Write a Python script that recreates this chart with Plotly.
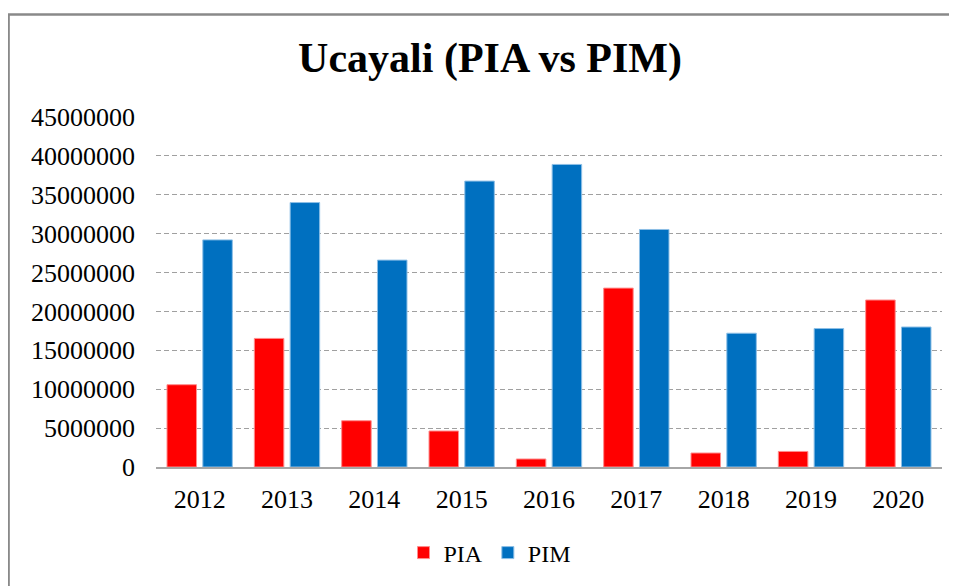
import plotly.graph_objects as go

years = ["2012", "2013", "2014", "2015", "2016", "2017", "2018", "2019", "2020"]
pia = [10580000, 16530000, 5950000, 4630000, 1030000, 23000000, 1800000, 2000000, 21470000]
pim = [29200000, 34000000, 26600000, 36760000, 38900000, 30540000, 17200000, 17800000, 18000000]
y_ticks = [0, 5000000, 10000000, 15000000, 20000000, 25000000, 30000000, 35000000, 40000000, 45000000]
y_tick_labels = [str(v) for v in y_ticks]

# page is drawn with an 8px body offset; target coordinates below are shifted by -8
OFF = 8
W, H = 957, 586
ml = 156 - OFF
mt = 117 - OFF
plot_right = 942.4 - OFF
plot_bottom = 467.3 - OFF
mr = W - plot_right
mb = H - plot_bottom
pw, ph = W - ml - mr, H - mt - mb

fig = go.Figure()
fig.add_trace(go.Bar(x=years, y=pia, name="PIA",
                     marker=dict(color="#FF0000", line=dict(color="#FF8C8C", width=1))))
fig.add_trace(go.Bar(x=years, y=pim, name="PIM",
                     marker=dict(color="#0070C0", line=dict(color="#8DBFE6", width=1))))

serif = "Liberation Serif"

fig.update_layout(
    width=W, height=H,
    margin=dict(l=ml, r=mr, t=mt, b=mb, pad=0),
    paper_bgcolor="white", plot_bgcolor="white",
    barmode="group", bargap=0.18, bargroupgap=0.176,
    font=dict(family=serif, color="black"),
    title=dict(text="<b>Ucayali (PIA vs PIM)</b>", font=dict(family=serif, size=42, color="black"),
               x=(490 - OFF) / W, xref="container", xanchor="center",
               y=1 - (57 - OFF) / H, yref="container", yanchor="middle"),
    showlegend=True,
    legend=dict(orientation="h", xref="container", yref="container",
                x=(490 - OFF) / W, xanchor="center", y=1 - (553 - OFF) / H, yanchor="middle",
                font=dict(family=serif, size=24, color="black"),
                bgcolor="rgba(0,0,0,0)"),
    xaxis=dict(showline=True, linecolor="#A6A6A6", linewidth=1.5, showgrid=False,
               ticks="", tickfont=dict(family=serif, size=26, color="black"),
               ticklabelstandoff=8),
    yaxis=dict(range=[0, 45000000], tickvals=y_ticks, ticktext=y_tick_labels,
               showgrid=True, gridcolor="#A0A0A0", gridwidth=1, griddash="5px,3px",
               zeroline=False, showline=False, ticks="",
               tickfont=dict(family=serif, size=26, color="black"),
               ticklabelstandoff=20),
    shapes=[dict(type="rect", xref="paper", yref="paper",
                 x0=(8.5 - OFF - ml) / pw, x1=(975 - ml) / pw,
                 y0=(plot_bottom - 610) / ph, y1=(plot_bottom - (14.5 - OFF)) / ph,
                 line=dict(color="#898989", width=2.5), fillcolor="rgba(0,0,0,0)",
                 layer="below")],
)

fig.write_html("out.html")
